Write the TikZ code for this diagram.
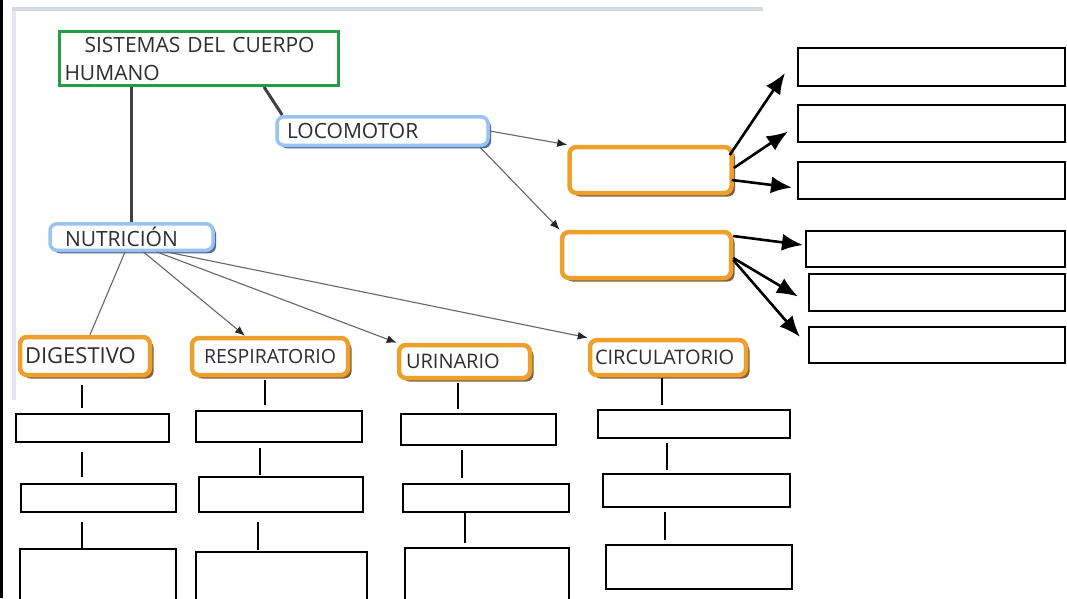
\documentclass[tikz,border=0pt]{standalone}
\usepackage{fontspec}
\setmainfont{Open Sans}
\usetikzlibrary{shadows,arrows.meta}

\definecolor{titlegreen}{RGB}{40,155,70}
\definecolor{locoblue}{RGB}{155,195,240}
\definecolor{blueshade}{RGB}{60,90,150}
\definecolor{sysorange}{RGB}{238,160,45}
\definecolor{orangeshade}{RGB}{115,80,45}
\definecolor{inkgray}{RGB}{45,45,50}
\definecolor{framegray}{RGB}{212,219,228}

\tikzset{
  titlebox/.style={draw=titlegreen, line width=3pt, fill=white, align=left, inner xsep=5pt, text=inkgray, font=\fontsize{21}{28}\selectfont},
  bluebox/.style={draw=locoblue, line width=3.5pt, rounded corners=7pt, fill=white, align=left, text=inkgray, font=\fontsize{21}{25}\selectfont,
    drop shadow={shadow xshift=3pt, shadow yshift=-3pt, fill=blueshade, opacity=0.9}},
  orangebox/.style={draw=sysorange, line width=4.5pt, rounded corners=7pt, fill=white, align=left, text=inkgray, font=\fontsize{20}{24}\selectfont,
    drop shadow={shadow xshift=3.5pt, shadow yshift=-3.5pt, fill=orangeshade, opacity=0.9}},
  rightbox/.style={draw=black, line width=2pt, inner sep=0pt, minimum width=#1},
  blankbox/.style={draw=black, line width=1.8pt, inner sep=0pt},
  trunk/.style={draw=black!75, line width=3pt},
  thinline/.style={draw=black!60, line width=1.1pt},
  thinlink/.style={thinline, -{Latex[length=10pt,width=8pt,color=black!85]}},
  biglink/.style={line width=2.6pt, -{Latex[length=21pt,width=17pt]}},
  stem/.style={line width=1.3pt},
}

\begin{document}
\begin{tikzpicture}[x=1pt, y=-1pt]
  \useasboundingbox (0,0) rectangle (1067,598);

  % screenshot frame
  \fill (0,0) rectangle (2.5,598);
  \fill[framegray] (12,7) rectangle (763,11);
  \fill[framegray!60] (12,11) rectangle (16,400);

  % main concepts
  \node[titlebox, text width=269pt, minimum height=54pt] (title) at (199,58.5) {\hspace*{20pt}SISTEMAS DEL CUERPO\\HUMANO};
  \node[bluebox, text width=191pt, minimum height=28.5pt, inner xsep=10pt] (loc) at (382.5,131) {LOCOMOTOR};
  \node[bluebox, text width=133pt, minimum height=26.5pt, inner xsep=15pt] (nut) at (131.5,237) {NUTRICIÓN};

  \draw[trunk] (title.south -| nut.north) -- (nut.north);
  \draw[trunk] ([xshift=65pt]title.south) -- ([xshift=7pt]loc.north west);

  % locomotor branch
  \node[orangebox, minimum width=162pt, minimum height=46pt] (ob1) at (650.5,170) {};
  \node[orangebox, minimum width=169pt, minimum height=46pt] (ob2) at (646.5,255) {};
  \draw[thinlink] (loc.east) -- (ob1.north west);
  \draw[thinlink] ([xshift=-10pt]loc.south east) -- (ob2.north west);

  \node[rightbox=267pt, minimum height=38pt] (r1) at (931.5,67) {};
  \node[rightbox=267pt, minimum height=37pt] (r2) at (931.5,123.5) {};
  \node[rightbox=267pt, minimum height=37pt] (r3) at (931.5,180.5) {};
  \node[rightbox=259pt, minimum height=36pt] (r4) at (935.5,249) {};
  \node[rightbox=256pt, minimum height=37pt] (r5) at (937,292.5) {};
  \node[rightbox=256pt, minimum height=36pt] (r6) at (937,345) {};

  \draw[biglink] ([xshift=-4pt,yshift=15pt]ob1.east) -- ([xshift=-12pt,yshift=-6pt]r1.west);
  \draw[biglink] ([yshift=2pt]ob1.east) -- ([xshift=-9pt,yshift=-8pt]r2.west);
  \draw[biglink] ([xshift=-2pt,yshift=-10pt]ob1.east) -- ([xshift=-5pt,yshift=-7pt]r3.west);
  \draw[biglink] ([yshift=19pt]ob2.east) -- ([xshift=-2pt,yshift=4pt]r4.west);
  \draw[biglink] ([yshift=-3pt]ob2.east) -- ([xshift=-10pt,yshift=-4pt]r5.west);
  \draw[biglink] ([yshift=-5pt]ob2.east) -- ([xshift=-8pt,yshift=8pt]r6.west);

  % nutricion branch
  \node[orangebox, text width=120pt, minimum height=38pt, inner xsep=5pt, font=\fontsize{22}{26}\selectfont] (dig) at (85,356) {DIGESTIVO};
  \node[orangebox, text width=132pt, minimum height=37pt, inner xsep=12pt, font=\fontsize{19.5}{24}\selectfont] (resp) at (270,356.5) {RESPIRATORIO};
  \node[orangebox, text width=117pt, minimum height=33pt, inner xsep=7pt] (urin) at (464.5,361.5) {URINARIO};
  \node[orangebox, text width=146pt, minimum height=35pt, inner xsep=5pt] (circ) at (668,357.5) {CIRCULATORIO};

  \draw[thinline] ([xshift=-6.5pt]nut.south) -- ([xshift=5pt]dig.north);
  \draw[thinlink] ([xshift=12pt]nut.south) -- ([xshift=-25pt]resp.north);
  \draw[thinlink] ([xshift=25.5pt]nut.south) -- (urin.north west);
  \draw[thinlink] ([xshift=35.5pt]nut.south) -- (circ.north west);

  % empty boxes below each system
  \node[blankbox, minimum width=153pt, minimum height=28pt] (a1) at (92.5,428) {};
  \node[blankbox, minimum width=155pt, minimum height=28pt] (a2) at (98.5,498) {};
  \node[blankbox, minimum width=156pt, minimum height=70pt] (a3) at (98,584) {};
  \node[blankbox, minimum width=166pt, minimum height=31pt] (b1) at (279,426.5) {};
  \node[blankbox, minimum width=164pt, minimum height=35pt] (b2) at (281,494.5) {};
  \node[blankbox, minimum width=171pt, minimum height=67pt] (b3) at (281.5,585.5) {};
  \node[blankbox, minimum width=155pt, minimum height=31pt] (u1) at (478.5,429.5) {};
  \node[blankbox, minimum width=166pt, minimum height=28pt] (u2) at (486,498) {};
  \node[blankbox, minimum width=164pt, minimum height=71pt] (u3) at (487,583.5) {};
  \node[blankbox, minimum width=192pt, minimum height=28pt] (k1) at (694,424) {};
  \node[blankbox, minimum width=187pt, minimum height=33pt] (k2) at (696.5,490.5) {};
  \node[blankbox, minimum width=186pt, minimum height=44pt] (k3) at (699,567) {};

  \draw[stem, shorten <=8pt, shorten >=5pt] (dig.south -| 82,0) -- (a1.north -| 82,0);
  \draw[stem, shorten <=9pt, shorten >=6pt] (a1.south -| 82,0) -- (a2.north -| 82,0);
  \draw[stem, shorten <=9pt] (a2.south -| 82,0) -- (a3.north -| 82,0);
  \draw[stem, shorten <=3pt, shorten >=5pt] (resp.south -| 265,0) -- (b1.north -| 265,0);
  \draw[stem, shorten <=5pt, shorten >=1pt] (b1.south -| 260,0) -- (b2.north -| 260,0);
  \draw[stem, shorten <=9pt, shorten >=1pt] (b2.south -| 258,0) -- (b3.north -| 258,0);
  \draw[stem, shorten <=3pt, shorten >=4pt] (urin.south -| 458,0) -- (u1.north -| 458,0);
  \draw[stem, shorten <=4pt, shorten >=5pt] (u1.south -| 462,0) -- (u2.north -| 462,0);
  \draw[stem, shorten >=4pt] (u2.south -| 465,0) -- (u3.north -| 465,0);
  \draw[stem, shorten <=1pt, shorten >=4pt] (circ.south -| 662,0) -- (k1.north -| 662,0);
  \draw[stem, shorten <=4pt, shorten >=3pt] (k1.south -| 667,0) -- (k2.north -| 667,0);
  \draw[stem, shorten <=4pt, shorten >=4pt] (k2.south -| 665,0) -- (k3.north -| 665,0);
\end{tikzpicture}
\end{document}
